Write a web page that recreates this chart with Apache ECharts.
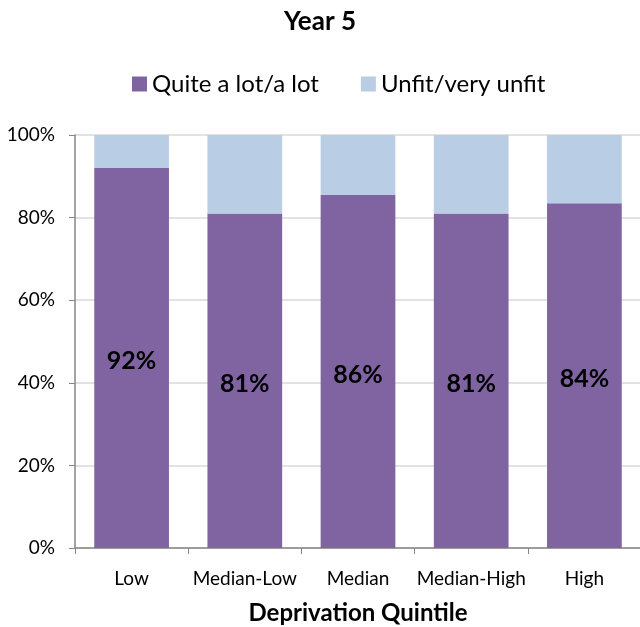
<!DOCTYPE html>
<html lang="en">
<head>
	<meta charset="UTF-8">
	<title>Year 5</title>
	<style>
		body { margin: 0; background: #fff; }
	</style>
</head>
<body>
	<div id="bar_one" style="width:640px;height:627px;"></div>
	<script src="https://cdn.jsdelivr.net/npm/echarts@6/dist/echarts.min.js"></script>
	<script>
		var categories = ['Low', 'Median-Low', 'Median', 'Median-High', 'High'];
		var quiteALot = [92, 81, 85.5, 81, 83.5];
		var quiteLabels = ['92%', '81%', '86%', '81%', '84%'];
		var unfit = [8, 19, 14.5, 19, 16.5];
		var seriesNames = ['Quite a lot/a lot', 'Unfit/very unfit'];

		var font = 'Lato, "Open Sans", sans-serif';
		var chart = echarts.init(document.getElementById('bar_one'));

		var option = {
			animation: false,
			title: {
				text: 'Year 5',
				left: 'center',
				top: 4,
				textStyle: { fontFamily: font, fontSize: 26, fontWeight: 'bold', color: '#000' }
			},
			legend: {
				top: 67,
				left: 127,
				itemWidth: 15,
				itemHeight: 15,
				itemGap: 42,
				icon: 'rect',
				textStyle: { fontFamily: font, fontSize: 24, color: '#000' },
				data: seriesNames
			},
			grid: {
				left: 75,
				right: -1,
				top: 135,
				bottom: 79,
				outerBoundsMode: 'none',
				containLabel: false
			},
			xAxis: {
				type: 'category',
				data: categories,
				name: 'Deprivation Quintile',
				nameLocation: 'middle',
				nameGap: 53,
				nameTextStyle: { fontFamily: font, fontSize: 24, fontWeight: 'bold', color: '#000' },
				axisLine: { lineStyle: { color: '#868686', width: 1.5 } },
				axisTick: { show: true, length: 6, lineStyle: { color: '#868686' } },
				axisLabel: { fontFamily: font, fontSize: 19, color: '#000', margin: 21, interval: 0 }
			},
			yAxis: {
				type: 'value',
				min: 0,
				max: 100,
				interval: 20,
				axisLine: { show: true, lineStyle: { color: '#868686', width: 1.5 } },
				axisTick: { show: true, length: 6, lineStyle: { color: '#868686' } },
				axisLabel: { fontFamily: font, fontSize: 19, color: '#000', margin: 20, formatter: '{value}%' },
				splitLine: { lineStyle: { color: '#d9d9d9', width: 1.5 } }
			},
			series: [
				{
					name: seriesNames[0],
					type: 'bar',
					stack: 'total',
					barWidth: '66%',
					itemStyle: { color: '#8064A2' },
					label: {
						show: true,
						position: 'inside',
						offset: [0, 3],
						fontFamily: font,
						fontSize: 25,
						fontWeight: 'bold',
						color: '#000',
						formatter: function (p) { return quiteLabels[p.dataIndex]; }
					},
					data: quiteALot
				},
				{
					name: seriesNames[1],
					type: 'bar',
					stack: 'total',
					barWidth: '66%',
					itemStyle: { color: '#B9CDE5' },
					data: unfit
				}
			]
		};
		chart.setOption(option);
	</script>
</body>
</html>
